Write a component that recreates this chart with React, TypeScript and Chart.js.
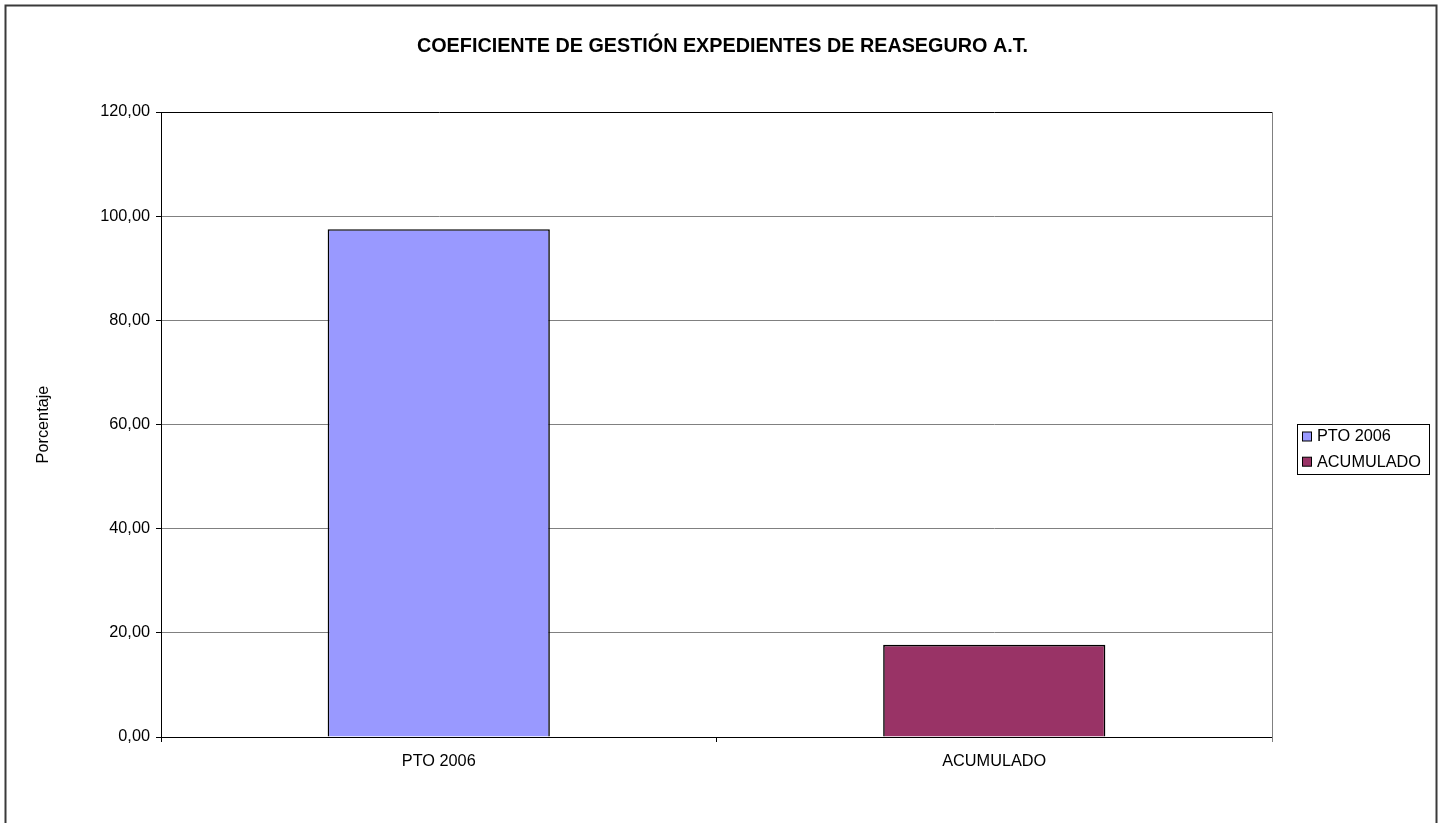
import React, { useEffect, useRef } from "react";
import { Chart, registerables } from "chart.js";

Chart.register(...registerables);

const chartTitle = "COEFICIENTE DE GESTIÓN EXPEDIENTES DE REASEGURO A.T.";
const yAxisTitle = "Porcentaje";
const categories = ["PTO 2006", "ACUMULADO"];
const values = [97.5, 17.7];
const barColors = ["#9999FF", "#993366"];
const yMin = 0;
const yMax = 120;
const yStep = 20;

const FONT = 'Arial, "Liberation Sans", sans-serif';
const FS = 16.3;

const frame = {
  id: "frame",
  beforeDraw(chart: any) {
    const ctx = chart.ctx;
    ctx.save();
    ctx.fillStyle = "#ffffff";
    ctx.fillRect(0, 0, chart.width, chart.height);
    ctx.strokeStyle = "#3a3a3a";
    ctx.lineWidth = 2;
    ctx.strokeRect(5.5, 5.5, 1431, 840);
    ctx.restore();
  },
  afterDatasetsDraw(chart: any) {
    const ctx = chart.ctx;
    const a = chart.chartArea;
    ctx.save();
    ctx.strokeStyle = "#808080";
    ctx.lineWidth = 1;
    ctx.beginPath();
    ctx.moveTo(Math.round(a.right) + 0.5, a.top);
    ctx.lineTo(Math.round(a.right) + 0.5, a.bottom + 5);
    ctx.stroke();
    ctx.restore();
  },
  afterDraw(chart: any) {
    const ctx = chart.ctx;
    ctx.save();
    // title
    ctx.fillStyle = "#000";
    ctx.font = `bold 19.8px ${FONT}`;
    ctx.textAlign = "center";
    ctx.textBaseline = "middle";
    ctx.fillText(chartTitle, 722.5, 47);
    // legend
    const lx = 1297.5, ly = 424.5, lw = 132, lh = 50;
    ctx.strokeStyle = "#000";
    ctx.lineWidth = 1;
    ctx.strokeRect(lx, ly, lw, lh);
    ctx.font = `${FS}px ${FONT}`;
    ctx.textBaseline = "middle";
    ctx.textAlign = "left";
    categories.forEach((c, i) => {
      const cy = 436.5 + i * 25.2;
      ctx.fillStyle = barColors[i];
      ctx.fillRect(1302.5, cy - 4.5, 9, 9);
      ctx.strokeStyle = "#000";
      ctx.strokeRect(1302.5, cy - 4.5, 9, 9);
      ctx.fillStyle = "#000";
      ctx.fillText(c, 1317, cy + 0.5);
    });
    ctx.restore();
  },
};

export default function App() {
  const ref = useRef<HTMLCanvasElement>(null);
  useEffect(() => {
    if (!ref.current) return;
    const chart = new Chart(ref.current, {
      type: "bar",
      data: {
        labels: categories,
        datasets: [
          {
            label: "Serie",
            data: values,
            backgroundColor: barColors,
            borderColor: "#000000",
            borderWidth: 1.6,
            barPercentage: 0.4,
            categoryPercentage: 1,
          },
        ],
      },
      options: {
        responsive: false,
        animation: false,
        devicePixelRatio: 1,
        layout: { padding: { left: 0, right: 171, top: 112, bottom: 0 } },
        plugins: {
          legend: { display: false },
          tooltip: { enabled: false },
          title: { display: false },
        },
        scales: {
          x: {
            offset: true,
            grid: {
              display: true,
              offset: true,
              drawOnChartArea: false,
              drawTicks: true,
              tickLength: 5,
              tickColor: "#000",
            },
            border: { display: true, color: "#000", width: 1 },
            ticks: {
              color: "#000",
              font: { family: FONT, size: FS },
              padding: 10,
              maxRotation: 0,
            },
            afterFit(scale: any) {
              scale.height = 86;
            },
          },
          y: {
            min: yMin,
            max: yMax,
            grid: {
              color: (c: any) => (c.tick && c.tick.value === yMax ? "#000" : "#808080"),
              tickColor: "#000",
              tickLength: 5,
              lineWidth: 1,
            },
            border: { display: true, color: "#000", width: 1 },
            ticks: {
              stepSize: yStep,
              color: "#000",
              font: { family: FONT, size: FS },
              padding: 6,
              callback: (v: any) => Number(v).toFixed(2).replace(".", ","),
            },
            title: {
              display: true,
              text: yAxisTitle,
              color: "#000",
              font: { family: FONT, size: FS },
              padding: { top: 34, bottom: 0 },
            },
            afterFit(scale: any) {
              scale.width = 161;
            },
          },
        },
      },
      plugins: [frame],
    });
    return () => chart.destroy();
  }, []);
  return (
    <div style={{ position: "absolute", left: 0, top: 0, width: 1443, height: 823 }}>
      <canvas ref={ref} width={1443} height={823} style={{ display: "block" }} />
    </div>
  );
}
